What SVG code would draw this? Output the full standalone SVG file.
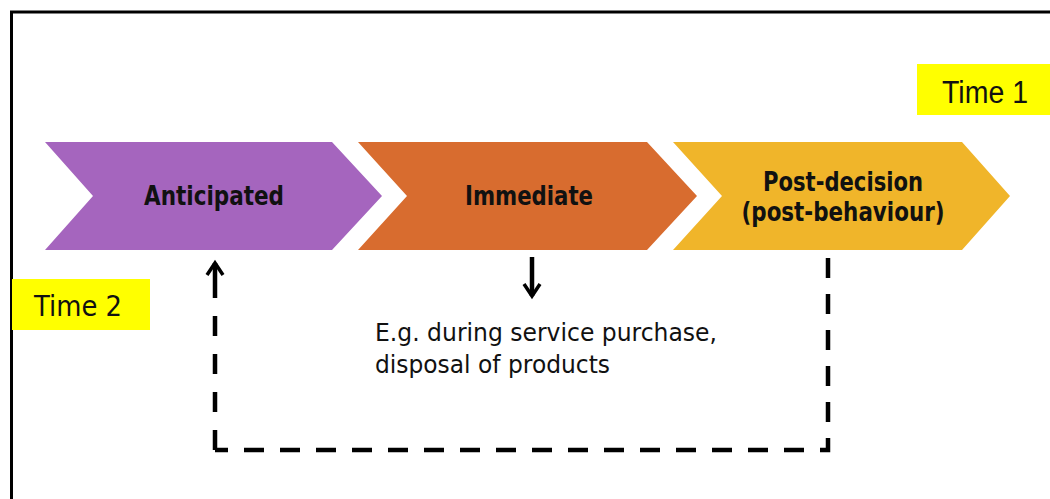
<svg xmlns="http://www.w3.org/2000/svg" width="1050" height="499" viewBox="0 0 1050 499">
  <style>
    .lbl { font-family: "DejaVu Sans", "Liberation Sans", sans-serif; fill: #111; }
    .bold { font-weight: bold; font-size: 26px; text-anchor: middle; }
    .note { font-size: 25px; }
    .conn { fill: none; stroke: #000; stroke-width: 4.5; }
    .dash { stroke-dasharray: 20 16; }
    .dash2 { stroke-dasharray: 20 18; }
  </style>
  <defs>
    <marker id="openhead" markerUnits="userSpaceOnUse" viewBox="0 0 14 20" refX="12" refY="10" markerWidth="14" markerHeight="20" orient="auto" overflow="visible">
      <path d="M0,2 L12,10 L0,18" fill="none" stroke="#000" stroke-width="3.5"/>
    </marker>
  </defs>
  <rect width="1050" height="499" fill="#fff"/>
  <path d="M11.5,499 V12 H1050" fill="none" stroke="#000" stroke-width="3"/>

  <g id="time1">
    <rect x="917" y="64" width="133" height="51" fill="#ffff00"/>
    <text x="942" y="103" font-family="'Liberation Sans', Arial, sans-serif" font-size="31" fill="#111" textLength="86" lengthAdjust="spacingAndGlyphs">Time 1</text>
  </g>

  <g id="time2">
    <rect x="12" y="279" width="138" height="51" fill="#ffff00"/>
    <text class="lbl" x="34" y="316" font-size="28" textLength="88" lengthAdjust="spacingAndGlyphs">Time 2</text>
  </g>

  <g id="anticipated">
    <polygon points="45,142 332,142 382,196 332,250 45,250 93,196" fill="#a565be"/>
    <text class="lbl bold" x="214" y="205" textLength="140" lengthAdjust="spacingAndGlyphs">Anticipated</text>
  </g>

  <g id="immediate">
    <polygon points="358,142 647,142 697,196 647,250 358,250 407,196" fill="#d86c2f"/>
    <text class="lbl bold" x="529" y="205" textLength="128" lengthAdjust="spacingAndGlyphs">Immediate</text>
  </g>

  <g id="post-decision">
    <polygon points="673,142 962,142 1010,196 962,250 673,250 722,196" fill="#f0b52a"/>
    <text class="lbl bold" x="843" y="191" textLength="160" lengthAdjust="spacingAndGlyphs">Post-decision</text>
    <text class="lbl bold" x="843" y="221" textLength="203" lengthAdjust="spacingAndGlyphs">(post-behaviour)</text>
  </g>

  <g id="example">
    <text class="lbl note" x="375" y="341" textLength="342" lengthAdjust="spacingAndGlyphs">E.g. during service purchase,</text>
    <text class="lbl note" x="375" y="373" textLength="235" lengthAdjust="spacingAndGlyphs">disposal of products</text>
  </g>

  <g id="connectors">
    <path class="conn" d="M532,257 V296" stroke-width="3.5" marker-end="url(#openhead)"/>
    <path class="conn dash" d="M828,258 V450 H215"/>
    <path class="conn dash2" d="M215,450 V316"/>
    <path class="conn" d="M215,298 V263" marker-end="url(#openhead)"/>
  </g>
</svg>
